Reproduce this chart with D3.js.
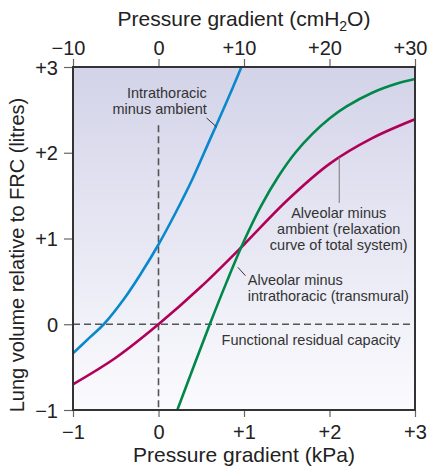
<!DOCTYPE html>
<html>
<head>
<meta charset="utf-8">
<script src="https://cdn.jsdelivr.net/npm/d3@7"></script>
<style>
	body { margin: 0; background: #fff; }
	svg text { font-family: "Liberation Sans", Arial, sans-serif; }
</style>
</head>
<body>
<div id="chart"></div>
<script>
'use strict';

// curves: x in kPa, y in litres
const intraX = [-1, -0.8, -0.64, -0.4, -0.2, 0, 0.2, 0.4, 0.6, 0.8, 0.97];
const intraY = [-0.34, -0.15, 0, 0.3, 0.6, 0.93, 1.3, 1.7, 2.15, 2.6, 3.0];

const alvAmbX = [-1, -0.5, 0, 0.5, 1.0, 1.5, 2.0, 2.5, 3];
const alvAmbY = [-0.70, -0.39, 0, 0.44, 0.93, 1.44, 1.87, 2.17, 2.39];

const transX = [0.22, 0.6, 0.8, 1.0, 1.2, 1.4, 1.6, 1.8, 2.0, 2.2, 2.5, 2.8, 3];
const transY = [-1, 0, 0.5, 0.97, 1.38, 1.72, 2.0, 2.22, 2.4, 2.54, 2.7, 2.81, 2.86];

const kpaTicks = [-1, 0, 1, 2, 3];
const cmTicks = [-10, 0, 10, 20, 30];
const volTicks = [-1, 0, 1, 2, 3];

const width = 428, height = 467;
const margin = { top: 67, right: 13, bottom: 57, left: 73 };
const w = width - margin.left - margin.right;
const h = height - margin.top - margin.bottom;

const signed = d => d > 0 ? "+" + d : d < 0 ? "\u2212" + (-d) : "0";

const svg = d3.select("#chart").append("svg")
	.attr("width", width)
	.attr("height", height);

const defs = svg.append("defs");
const grad = defs.append("linearGradient")
	.attr("id", "bg")
	.attr("x1", 0).attr("y1", 0).attr("x2", 0).attr("y2", 1);
grad.append("stop").attr("offset", "0%").attr("stop-color", "#d3d3e9");
grad.append("stop").attr("offset", "100%").attr("stop-color", "#fbfbfe");

defs.append("clipPath").attr("id", "clip")
	.append("rect").attr("width", w).attr("height", h);

const g = svg.append("g")
	.attr("transform", `translate(${margin.left},${margin.top})`);

const x = d3.scaleLinear().domain([-1, 3]).range([0, w]);
const xTop = d3.scaleLinear().domain([-10, 30]).range([0, w]);
const y = d3.scaleLinear().domain([-1, 3]).range([h, 0]);

g.append("rect")
	.attr("width", w).attr("height", h)
	.attr("fill", "url(#bg)");

// dashed reference lines
g.append("line")
	.attr("x1", x(-1)).attr("x2", x(3))
	.attr("y1", y(0)).attr("y2", y(0))
	.attr("stroke", "#555").attr("stroke-width", 1.6)
	.attr("stroke-dasharray", "7,4");
g.append("line")
	.attr("x1", x(0)).attr("x2", x(0))
	.attr("y1", y(2.32)).attr("y2", y(-1))
	.attr("stroke", "#555").attr("stroke-width", 1.6)
	.attr("stroke-dasharray", "7,4");

const line = d3.line()
	.x(d => x(d[0]))
	.y(d => y(d[1]))
	.curve(d3.curveCatmullRom);

const series = [
	{ xs: intraX, ys: intraY, color: "#0a88cc" },
	{ xs: alvAmbX, ys: alvAmbY, color: "#b00058" },
	{ xs: transX, ys: transY, color: "#00874a" }
];

const plot = g.append("g").attr("clip-path", "url(#clip)");
series.forEach(s => {
	plot.append("path")
		.datum(d3.zip(s.xs, s.ys))
		.attr("d", line)
		.attr("fill", "none")
		.attr("stroke", s.color)
		.attr("stroke-width", 2.6);
});

// leader lines
const leader = (x1, y1, x2, y2, col) => g.append("line")
	.attr("x1", x(x1)).attr("y1", y(y1))
	.attr("x2", x(x2)).attr("y2", y(y2))
	.attr("stroke", col).attr("stroke-width", 1);
leader(0.563, 2.405, 0.68, 2.30, "#333");
leader(2.114, 1.95, 2.114, 1.414, "#777");
leader(0.928, 0.664, 1.017, 0.566, "#333");

// annotations
const note = (lines, px, py, anchor) => {
	const t = g.append("text")
		.attr("font-size", 14.5)
		.attr("fill", "#333")
		.attr("text-anchor", anchor);
	lines.forEach((l, i) => t.append("tspan")
		.attr("x", x(px)).attr("y", y(py) + i * 16)
		.text(l));
};
note(["Intrathoracic", "minus ambient"], 0.565, 2.64, "end");
note(["Alveolar minus", "ambient (relaxation", "curve of total system)"], 2.108, 1.239, "middle");
note(["Alveolar minus", "intrathoracic (transmural)"], 1.044, 0.458, "start");
note(["Functional residual capacity"], 1.784, -0.242, "middle");

// axes
const xAxis = g.append("g")
	.attr("transform", `translate(0,${h})`)
	.call(d3.axisBottom(x).tickValues(kpaTicks).tickSize(7).tickPadding(8)
		.tickFormat(signed));
const topAxis = g.append("g")
	.call(d3.axisTop(xTop).tickValues(cmTicks).tickSize(8).tickPadding(4)
		.tickFormat(signed));
const yAxis = g.append("g")
	.call(d3.axisLeft(y).tickValues(volTicks).tickSize(9).tickPadding(6)
		.tickFormat(signed));

[xAxis, topAxis, yAxis].forEach(a => {
	a.select(".domain").remove();
	a.selectAll(".tick line").attr("stroke", "#666").attr("stroke-width", 1.2);
	a.selectAll(".tick text")
		.attr("font-size", 20)
		.attr("fill", "#222")
		.style("font-family", "'Liberation Sans', Arial, sans-serif");
});
yAxis.selectAll(".tick text").attr("dy", "0.36em");
topAxis.selectAll(".tick text").attr("dx", d => d === 0 ? 0 : -5);

// frame
g.append("rect")
	.attr("width", w).attr("height", h)
	.attr("fill", "none")
	.attr("stroke", "#333")
	.attr("stroke-width", 2);

// titles
const topTitle = svg.append("text")
	.attr("x", margin.left + w / 2).attr("y", 26)
	.attr("text-anchor", "middle")
	.attr("font-size", 21)
	.attr("fill", "#222");
topTitle.append("tspan").text("Pressure gradient (cmH");
topTitle.append("tspan").attr("font-size", 14).attr("dy", 5).text("2");
topTitle.append("tspan").attr("dy", -5).text("O)");

svg.append("text")
	.attr("x", margin.left + w / 2).attr("y", 462)
	.attr("text-anchor", "middle")
	.attr("font-size", 21)
	.attr("fill", "#222")
	.text("Pressure gradient (kPa)");

svg.append("text")
	.attr("transform", "translate(24,255) rotate(-90)")
	.attr("text-anchor", "middle")
	.attr("font-size", 20)
	.attr("fill", "#222")
	.text("Lung volume relative to FRC (litres)");
</script>
</body>
</html>
